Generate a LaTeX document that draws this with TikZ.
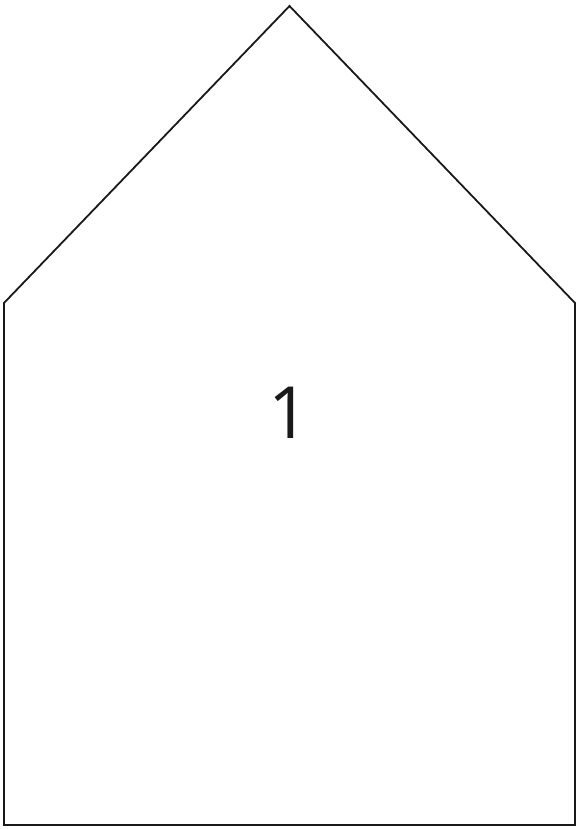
\documentclass[tikz,border=0pt]{standalone}
\usepackage{fontspec}
\setmainfont{Open Sans}
\begin{document}
\begin{tikzpicture}[x=1pt,y=-1pt,
  outline/.style={draw=black!90,line width=1.8pt,line join=miter},
  label/.style={font=\fontsize{72}{72}\selectfont,text=black!90,inner sep=0pt}]
\useasboundingbox (0,0) rectangle (577,829);
\coordinate (apex) at (289.5,6);
\coordinate (ls) at (4,303);
\coordinate (rs) at (575,303);
\coordinate (bl) at (4,825);
\coordinate (br) at (575,825);
\draw[outline] (apex) -- (rs) -- (br) -- (bl) -- (ls) -- cycle;
\node[label] (n1) at (289,413) {1};
\end{tikzpicture}
\end{document}
